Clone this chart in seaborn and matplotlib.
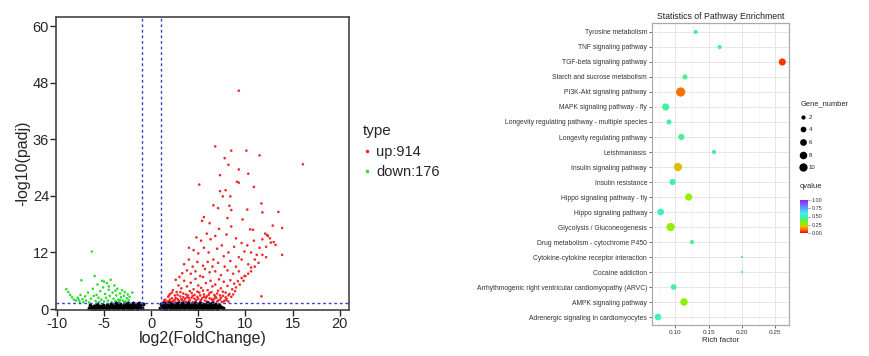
import matplotlib
matplotlib.use("Agg")
import matplotlib.pyplot as plt
import numpy as np
import pandas as pd
import seaborn as sns
from matplotlib.colors import LinearSegmentedColormap, Normalize
from matplotlib.lines import Line2D

sns.set_style("white")
plt.rcParams["font.family"] = ["Liberation Sans", "DejaVu Sans"]
plt.rcParams["axes.unicode_minus"] = False

# ---- volcano data (log2 fold change, -log10 padj) ----
n_up = 914
n_down = 176

up_points = [
    (9.3, 46.3), (6.8, 34.5), (8.5, 33.6), (10.1, 33.6), (11.5, 32.6), (7.8, 32.0), (16.1, 30.7),
    (8.2, 30.6), (9.3, 29.6), (7.3, 28.4), (10.3, 28.7), (9.1, 27.0), (9.3, 26.8), (5.1, 26.4),
    (10.9, 25.9), (7.3, 25.0), (7.9, 25.2), (7.6, 23.9), (8.4, 23.9), (11.7, 22.4), (6.6, 22.0),
    (7.1, 21.4), (8.3, 21.9), (8.5, 21.0), (10.2, 21.1), (13.5, 20.6), (11.8, 20.5), (5.4, 18.7),
    (8.1, 19.3), (9.7, 19.0), (6.2, 18.2), (13.9, 17.2), (10.5, 16.9), (10.8, 16.8), (12.1, 16.0),
    (12.3, 15.7), (12.9, 17.7), (12.4, 15.5), (12.7, 14.1), (13.2, 13.6), (13.9, 11.5), (11.7, 2.7),
    (4.5, 12.5), (5.0, 11.8), (5.3, 14.5), (5.6, 13.0), (5.9, 16.0), (6.1, 12.0), (6.3, 14.8),
    (6.6, 10.5), (6.8, 15.5), (7.0, 12.8), (7.2, 17.0), (7.5, 13.5), (7.7, 11.2), (8.0, 15.8),
    (8.2, 12.0), (8.5, 17.5), (8.8, 13.2), (9.0, 15.0), (9.3, 11.0), (9.6, 14.0), (9.9, 12.2),
    (10.2, 13.5), (10.6, 12.0), (10.9, 14.5), (11.2, 11.5), (11.5, 13.0), (11.8, 14.8), (12.2, 13.2),
    (12.6, 15.0), (13.0, 14.2),
    (3.5, 9.5), (3.8, 8.2), (4.0, 10.5), (4.2, 7.5), (4.4, 9.0), (4.7, 8.0), (4.9, 10.0),
    (5.2, 7.0), (5.5, 9.2), (5.7, 8.5), (6.0, 10.0), (6.2, 7.8), (6.5, 9.0), (6.8, 8.0),
    (7.1, 9.8), (7.4, 7.2), (7.8, 9.0), (8.1, 8.2), (8.4, 10.2), (8.7, 7.5), (9.0, 9.0),
    (9.3, 8.0), (9.6, 10.5), (9.9, 7.0), (10.3, 9.5), (10.6, 8.0), (11.0, 10.5), (11.4, 9.8),
    (11.8, 11.5), (12.2, 11.0),
    (1.3, 1.5), (1.5, 2.0), (1.6, 1.4), (1.8, 2.6), (1.9, 1.7), (2.0, 3.2), (2.1, 1.5),
    (2.2, 2.3), (2.3, 4.0), (2.4, 1.8), (2.5, 2.9), (2.6, 1.4), (2.7, 3.6), (2.8, 2.1),
    (2.9, 5.0), (3.0, 1.6), (3.1, 2.7), (3.2, 4.4), (3.3, 1.9), (3.4, 3.3), (3.5, 6.0),
    (3.6, 2.2), (3.7, 1.5), (3.8, 4.8), (3.9, 2.9), (4.0, 1.7), (4.1, 3.8), (4.2, 5.6),
    (4.3, 2.4), (4.4, 1.5), (4.5, 4.2), (4.6, 3.0), (4.7, 6.4), (4.8, 1.9), (4.9, 2.6),
    (5.0, 5.0), (5.1, 3.5), (5.2, 1.6), (5.3, 4.5), (5.4, 2.3), (5.5, 6.8), (5.6, 3.1),
    (5.7, 1.8), (5.8, 5.5), (5.9, 2.7), (6.0, 4.0), (6.1, 1.5), (6.2, 3.4), (6.3, 6.0),
    (6.4, 2.1), (6.5, 4.8), (6.6, 1.7), (6.7, 3.0), (6.8, 5.2), (6.9, 2.4), (7.0, 1.6),
    (7.1, 3.9), (7.2, 6.3), (7.3, 2.0), (7.4, 4.4), (7.5, 1.5), (7.6, 2.8), (7.7, 5.8),
    (7.8, 1.8), (7.9, 3.5), (8.0, 2.2), (8.1, 4.9), (8.2, 1.6), (8.3, 3.2), (8.4, 6.1),
    (8.5, 2.6), (8.6, 4.2), (8.7, 3.1), (8.8, 5.4), (8.9, 3.8), (9.0, 4.6), (9.2, 5.9),
    (9.4, 5.2), (9.6, 6.6), (9.8, 6.0), (10.0, 7.0), (10.3, 7.5), (10.6, 8.8), (11.0, 9.0),
    (1.4, 1.9), (1.7, 1.6), (2.0, 2.0), (2.3, 1.6), (2.6, 2.4), (2.9, 1.8), (3.2, 2.1),
    (3.5, 1.7), (3.8, 2.5), (4.1, 1.9), (4.4, 2.8), (4.7, 1.6), (5.0, 2.2), (5.3, 1.9),
    (5.6, 2.6), (5.9, 1.6), (6.2, 2.3), (6.5, 1.9), (6.8, 2.7), (7.1, 1.8), (7.4, 2.4),
    (7.7, 1.6), (8.0, 1.9), (1.9, 2.9), (2.2, 3.5), (2.5, 2.0), (2.8, 3.0), (3.1, 3.6),
    (3.4, 2.5), (3.7, 3.1), (4.0, 2.4), (4.3, 3.4), (4.6, 2.2), (4.9, 3.7), (5.2, 2.9),
    (5.5, 3.9), (5.8, 2.4), (6.1, 3.0), (6.4, 3.6), (6.7, 2.2), (7.0, 3.3), (7.3, 2.9),
    (7.6, 3.7), (7.9, 2.5), (8.2, 2.9), (3.0, 6.8), (3.3, 7.6), (2.6, 6.2), (4.0, 13.0),
    (4.8, 15.2), (5.6, 19.5),
]

down_points = [
    (-6.3, 12.2), (-9.0, 4.2), (-8.8, 3.6), (-8.6, 3.0), (-8.4, 2.5), (-8.2, 2.0), (-8.0, 1.8),
    (-7.8, 2.4), (-7.6, 1.6), (-7.5, 3.0), (-7.4, 6.1), (-7.3, 2.1), (-7.2, 1.5), (-7.0, 2.7),
    (-6.9, 1.8), (-6.7, 3.5), (-6.6, 1.4), (-6.4, 2.2), (-6.2, 4.3), (-6.0, 7.0), (-5.9, 1.7),
    (-5.8, 3.0), (-5.7, 5.2), (-5.6, 2.4), (-5.5, 1.5), (-5.4, 3.8), (-5.3, 2.0), (-5.2, 6.0),
    (-5.1, 4.6), (-5.0, 1.6), (-4.9, 3.2), (-4.8, 2.4), (-4.7, 5.5), (-4.6, 1.8), (-4.5, 4.1),
    (-4.4, 2.8), (-4.3, 6.2), (-4.2, 1.5), (-4.1, 3.5), (-4.0, 2.2), (-3.9, 5.0), (-3.8, 1.7),
    (-3.7, 2.9), (-3.6, 4.3), (-3.5, 2.0), (-3.4, 1.5), (-3.3, 3.3), (-3.2, 2.5), (-3.1, 4.0),
    (-3.0, 1.8), (-2.9, 2.8), (-2.8, 3.6), (-2.7, 1.6), (-2.6, 2.3), (-2.5, 3.1), (-2.4, 1.9),
    (-2.3, 2.6), (-5.0, 5.8), (-4.5, 4.8), (-3.8, 3.9), (-3.3, 1.9), (-2.9, 1.5), (-6.1, 2.8),
    (-7.7, 2.0), (-2.0, 3.5),
]

normal_points = [
    (-6.6, 0.2), (-6.5, 0.9), (-6.4, 0.5), (-6.3, 0.1), (-6.2, 0.3), (-6.1, 0.7), (-6.0, 0.6),
    (-5.9, 0.3), (-5.8, 0.2), (-5.7, 1.0), (-5.6, 0.4), (-5.5, 0.2), (-5.4, 0.7), (-5.3, 0.5),
    (-5.2, 0.3), (-5.1, 0.8), (-5.0, 0.5), (-4.9, 0.1), (-4.8, 0.2), (-4.7, 0.9), (-4.6, 0.6),
    (-4.5, 0.3), (-4.4, 0.4), (-4.3, 1.1), (-4.2, 0.8), (-4.1, 0.2), (-4.0, 0.3), (-3.9, 0.7),
    (-3.8, 0.5), (-3.7, 1.2), (-3.6, 0.9), (-3.5, 0.3), (-3.4, 0.4), (-3.3, 1.0), (-3.2, 0.7),
    (-3.1, 0.2), (-3.0, 0.3), (-2.9, 0.8), (-2.8, 1.0), (-2.7, 0.4), (-2.6, 0.6), (-2.5, 1.2),
    (-2.4, 0.4), (-2.3, 0.9), (-2.2, 0.9), (-2.1, 0.2), (-2.0, 0.5), (-1.9, 1.3), (-1.8, 1.1),
    (-1.7, 0.4), (-1.6, 0.7), (-1.5, 1.0), (-1.4, 0.4), (-1.3, 1.2), (-1.2, 0.8), (-1.1, 0.2),
    (-1.0, 0.3), (-0.9, 1.1), (-6.0, 0.0), (-5.0, 0.0), (-4.0, 0.1), (-3.0, 0.0), (-2.0, 0.1),
    (-1.5, 0.0), (-4.5, 0.0), (-3.5, 0.1), (-2.5, 0.0), (-5.5, 0.1),
    (0.9, 0.3), (1.0, 1.0), (1.1, 0.5), (1.2, 0.2), (1.3, 0.8), (1.4, 1.2), (1.5, 0.4),
    (1.6, 0.1), (1.7, 0.9), (1.8, 0.6), (1.9, 1.3), (2.0, 0.3), (2.1, 0.7), (2.2, 1.1),
    (2.3, 0.2), (2.4, 0.5), (2.5, 1.0), (2.6, 0.8), (2.7, 0.3), (2.8, 1.2), (2.9, 0.6),
    (3.0, 0.1), (3.1, 0.9), (3.2, 0.4), (3.3, 1.3), (3.4, 0.7), (3.5, 0.2), (3.6, 1.0),
    (3.7, 0.5), (3.8, 0.8), (3.9, 1.2), (4.0, 0.3), (4.1, 0.6), (4.2, 1.1), (4.3, 0.2),
    (4.4, 0.9), (4.5, 0.4), (4.6, 1.3), (4.7, 0.7), (4.8, 0.1), (4.9, 1.0), (5.0, 0.5),
    (5.1, 0.8), (5.2, 1.2), (5.3, 0.3), (5.4, 0.6), (5.5, 1.1), (5.6, 0.2), (5.7, 0.9),
    (5.8, 0.4), (5.9, 1.3), (6.0, 0.7), (6.1, 0.3), (6.2, 1.0), (6.3, 0.5), (6.4, 0.8),
    (6.5, 1.2), (6.6, 0.2), (6.7, 0.6), (6.8, 1.0), (6.9, 0.4), (7.0, 0.7), (7.1, 0.2),
    (7.2, 0.9), (7.4, 0.4), (7.6, 0.2), (1.5, 0.0), (2.5, 0.0), (3.5, 0.1), (4.5, 0.0),
    (5.5, 0.1), (6.5, 0.0), (2.0, 0.0), (3.0, 0.0), (4.0, 0.0), (5.0, 0.0), (6.0, 0.1), (7.0, 0.0),
]

fc_ticks = [-10, -5, 0, 5, 10, 15, 20]
padj_ticks = [0, 12, 24, 36, 48, 60]
fc_cut = 1
padj_cut = 1.3

# ---- pathway enrichment data ----
pathways = [
    "Tyrosine metabolism",
    "TNF signaling pathway",
    "TGF-beta signaling pathway",
    "Starch and sucrose metabolism",
    "PI3K-Akt signaling pathway",
    "MAPK signaling pathway - fly",
    "Longevity regulating pathway - multiple species",
    "Longevity regulating pathway",
    "Leishmaniasis",
    "Insulin signaling pathway",
    "Insulin resistance",
    "Hippo signaling pathway - fly",
    "Hippo signaling pathway",
    "Glycolysis / Gluconeogenesis",
    "Drug metabolism - cytochrome P450",
    "Cytokine-cytokine receptor interaction",
    "Cocaine addiction",
    "Arrhythmogenic right ventricular cardiomyopathy (ARVC)",
    "AMPK signaling pathway",
    "Adrenergic signaling in cardiomyocytes",
]
rich_factor = [0.1305, 0.1665, 0.2605, 0.1145, 0.108, 0.0855, 0.0905, 0.109, 0.158, 0.104,
               0.096, 0.120, 0.078, 0.093, 0.125, 0.200, 0.200, 0.0975, 0.113, 0.074]
gene_number = [2, 2, 7, 3, 13, 7, 3, 5, 2, 10, 5, 7, 6, 10, 2, 1, 1, 4, 8, 6]
qvalue = [0.48, 0.50, 0.05, 0.45, 0.10, 0.47, 0.48, 0.44, 0.46, 0.19,
          0.50, 0.30, 0.52, 0.30, 0.46, 0.45, 0.52, 0.47, 0.30, 0.53]
size_breaks = [2, 4, 6, 8, 10]
q_ticks = [0.0, 0.25, 0.5, 0.75, 1.0]
rich_ticks = [0.10, 0.15, 0.20, 0.25]

q_cmap = LinearSegmentedColormap.from_list("q", [
    (0.0, "#FF0000"), (0.1, "#FF7000"), (0.2, "#D8C800"), (0.3, "#90F000"),
    (0.4, "#50F070"), (0.5, "#40F0B0"), (0.6, "#40F0F0"), (0.75, "#60A0FF"), (1.0, "#9020FF")])


def dot_area(n):
    d_px = 2.2 + 7.0 * np.sqrt((n - 1) / (max(gene_number) - 1))
    return (0.72 * d_px) ** 2


def plot_volcano(fig):
    ax = fig.add_axes([0.0644, 0.1292, 0.3368, 0.8239])
    frames = []
    for pts, kind in [(up_points, "up"), (down_points, "down"), (normal_points, "normal")]:
        df = pd.DataFrame(pts, columns=["log2FC", "padj"])
        df["type"] = kind
        frames.append(df)
    data = pd.concat(frames, ignore_index=True)

    sns.scatterplot(data=data[data["type"] != "normal"], x="log2FC", y="padj", hue="type",
                    palette={"up": "#F02828", "down": "#30DC30"}, s=3.5, linewidth=0,
                    legend=False, ax=ax)
    sns.scatterplot(data=data[data["type"] == "normal"], x="log2FC", y="padj", color="black",
                    s=8, linewidth=0, legend=False, ax=ax)

    ax.axvline(-fc_cut, color="#3344CC", ls=(0, (2, 2)), lw=1.0)
    ax.axvline(fc_cut, color="#3344CC", ls=(0, (2, 2)), lw=1.0)
    ax.axhline(padj_cut, color="#3344CC", ls=(0, (2, 2)), lw=1.0)

    ax.set_xlim(-10.1, 21)
    ax.set_ylim(-0.2, 62)
    ax.set_xticks(fc_ticks)
    ax.set_yticks(padj_ticks)
    ax.tick_params(axis="both", direction="out", length=4, width=1, labelsize=10.5, pad=1,
                   bottom=True, left=True)
    ax.set_xlabel("log2(FoldChange)", fontsize=11.5, labelpad=0)
    ax.set_ylabel("-log10(padj)", fontsize=11.5, labelpad=2)
    for sp in ax.spines.values():
        sp.set_color("#444444")
        sp.set_linewidth(1.2)

    handles = [
        Line2D([], [], marker="o", ls="", color="#F02828", markersize=1.5, label=f"up:{n_up}"),
        Line2D([], [], marker="o", ls="", color="#30DC30", markersize=1.5, label=f"down:{n_down}"),
    ]
    fig.legend(handles=handles, title="type", loc="upper left",
               bbox_to_anchor=(350 / 870, 1 - 111 / 356), frameon=False, fontsize=10.5,
               title_fontsize=11, handlelength=0.6, handletextpad=0.3, labelspacing=0.45,
               alignment="left")


def plot_enrichment(fig):
    ax = fig.add_axes([0.7494, 0.0871, 0.1575, 0.8492])
    data = pd.DataFrame({"pathway": pathways, "rich": rich_factor,
                         "genes": gene_number, "q": qvalue})
    size_map = {n: dot_area(n) for n in sorted(set(gene_number))}

    ax.set_facecolor("white")
    for x in [0.075, 0.125, 0.175, 0.225]:
        ax.axvline(x, color="#F2F2F2", lw=0.5, zorder=0)
    for x in rich_ticks:
        ax.axvline(x, color="#E6E6E6", lw=0.7, zorder=0)
    for i in range(len(pathways)):
        ax.axhline(i, color="#E6E6E6", lw=0.7, zorder=0)

    sns.scatterplot(data=data, x="rich", y="pathway", hue="q", palette=q_cmap,
                    hue_norm=(0, 1), size="genes", sizes=size_map, linewidth=0,
                    legend=False, ax=ax, zorder=3)

    ax.set_xlim(0.065, 0.2706)
    ax.set_ylim(len(pathways) - 0.47, -0.62)
    ax.set_xticks(rich_ticks)
    ax.set_xticklabels([f"{t:.2f}" for t in rich_ticks])
    ax.tick_params(axis="both", direction="out", length=2, width=0.5, labelsize=4.6, pad=1.5,
                   colors="#333333", bottom=True, left=True)
    ax.tick_params(axis="y", labelsize=4.9)
    ax.set_xlabel("Rich factor", fontsize=5.6, labelpad=1.5)
    ax.set_ylabel("")
    ax.set_title("Statistics of Pathway Enrichment", fontsize=6.3, pad=3, color="#222222")
    for sp in ax.spines.values():
        sp.set_color("#AAAAAA")
        sp.set_linewidth(0.9)

    # size legend
    handles = [Line2D([], [], marker="o", ls="", color="black", markeredgewidth=0,
                      markersize=np.sqrt(dot_area(n)), label=str(n)) for n in size_breaks]
    fig.legend(handles=handles, title="Gene_number", loc="upper left",
               bbox_to_anchor=(796 / 870, 1 - 96 / 356), frameon=False, fontsize=4.3,
               title_fontsize=5.4, handlelength=1.0, handletextpad=0.4, labelspacing=1.25,
               alignment="left", borderpad=0.2)

    # qvalue colourbar
    cax = fig.add_axes([800 / 870, 1 - 233 / 356, 8 / 870, 33 / 356])
    sm = plt.cm.ScalarMappable(norm=Normalize(0, 1), cmap=q_cmap)
    cb = fig.colorbar(sm, cax=cax, ticks=q_ticks)
    cb.ax.set_yticklabels([f"{t:.2f}" for t in q_ticks])
    cb.ax.tick_params(labelsize=3.9, length=1.5, width=0.4, pad=1, colors="#333333")
    cb.outline.set_visible(False)
    fig.text(800 / 870, 1 - 186 / 356, "qvalue", fontsize=5.4, va="center", ha="left")


def main() -> None:
    fig = plt.figure(figsize=(8.7, 3.56), dpi=100)
    plot_volcano(fig)
    plot_enrichment(fig)
    fig.savefig("out.png", dpi=100, facecolor="white")


if __name__ == "__main__":
    main()
